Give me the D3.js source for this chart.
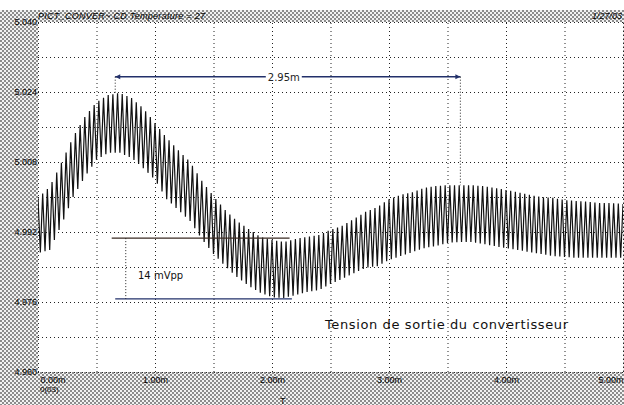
<!DOCTYPE html>
<html>
<head>
<meta charset="utf-8">
<script src="https://cdn.jsdelivr.net/npm/d3@7"></script>
<style>
body { margin: 0; background: #fff; }
svg { display: block; }
.grid line { stroke: #222; stroke-width: 1; stroke-dasharray: 1,3; }
.grid path { display: none; }
.axis path, .axis line { display: none; }
.axis text { font: 9px "Liberation Sans", sans-serif; fill: #000; }
</style>
</head>
<body>
<svg width="624" height="405"></svg>
<script>
// time in ms, read every 0.1 ms
var times = d3.range(0, 51).map(function(i) { return i / 10; });

// ripple tops (V)
var upper = [4.9998, 5.0023, 5.0078, 5.0137, 5.0183, 5.0217, 5.0233, 5.0238, 5.0226, 5.0203,
             5.0169, 5.0135, 5.0107, 5.0080, 5.0037, 5.0002, 4.9970, 4.9945, 4.9927, 4.9909,
             4.9902, 4.9897, 4.9904, 4.9909, 4.9913, 4.9925, 4.9934, 4.9950, 4.9966, 4.9977,
             4.9995, 5.0005, 5.0011, 5.0021, 5.0025, 5.0027, 5.0027, 5.0027, 5.0025, 5.0021,
             5.0016, 5.0011, 5.0005, 5.0000, 4.9998, 4.9993, 4.9991, 4.9989, 4.9986, 4.9986,
             4.9984];

// ripple bottoms (V)
var lower = [4.9872, 4.9879, 4.9936, 5.0000, 5.0046, 5.0085, 5.0101, 5.0101, 5.0089, 5.0066,
             5.0039, 4.9995, 4.9970, 4.9945, 4.9904, 4.9870, 4.9842, 4.9817, 4.9797, 4.9781,
             4.9771, 4.9769, 4.9776, 4.9783, 4.9787, 4.9801, 4.9813, 4.9826, 4.9838, 4.9842,
             4.9856, 4.9865, 4.9874, 4.9883, 4.9888, 4.9895, 4.9897, 4.9897, 4.9893, 4.9888,
             4.9883, 4.9879, 4.9874, 4.9870, 4.9865, 4.9863, 4.9861, 4.9861, 4.9861, 4.9861,
             4.9861];

var rippleCycles = 125;

var xTicks = [0, 1, 2, 3, 4, 5];
var yTicks = [4.960, 4.976, 4.992, 5.008, 5.024, 5.040];
var xGrid = d3.range(0, 5.01, 0.5);
var yGrid = d3.range(4.960, 5.0401, 0.008);

// annotations (ms, V)
var periodMark = {t0: 0.66, t1: 3.61, v: 5.0275, label: "2.95m", peak0: 5.0238, peak1: 5.0027};
var ppMark = {t0: 0.63, t1: 2.15, hi: 4.9906, lo: 4.9767, tv: 0.75, label: "14 mVpp"};

var svg = d3.select("svg");
var W = 624, H = 405;
var margin = {top: 22, right: 1, bottom: 33, left: 38};

var x = d3.scaleLinear().domain([0, 5]).range([margin.left, W - margin.right]);
var y = d3.scaleLinear().domain([4.960, 5.040]).range([H - margin.bottom, margin.top]);

var defs = svg.append("defs");
var pat = defs.append("pattern").attr("id", "dither")
    .attr("width", 4).attr("height", 4).attr("patternUnits", "userSpaceOnUse");
pat.append("rect").attr("width", 4).attr("height", 4).attr("fill", "#f2f2f2");
pat.append("rect").attr("x", 0).attr("y", 0).attr("width", 2).attr("height", 2).attr("fill", "#8c8c8c");
pat.append("rect").attr("x", 2).attr("y", 2).attr("width", 2).attr("height", 2).attr("fill", "#8c8c8c");

defs.append("clipPath").attr("id", "plotclip")
  .append("rect")
    .attr("x", x(0)).attr("y", y(5.040))
    .attr("width", x(5) - x(0)).attr("height", y(4.960) - y(5.040));

// hatched frame
svg.append("rect").attr("x", 0).attr("y", 10).attr("width", W).attr("height", H - 10).attr("fill", "url(#dither)");
svg.append("rect")
    .attr("x", x(0)).attr("y", y(5.040))
    .attr("width", x(5) - x(0)).attr("height", y(4.960) - y(5.040))
    .attr("fill", "#fff");

// grid
svg.append("g").attr("class", "grid")
    .attr("transform", "translate(0," + y(4.960) + ")")
    .call(d3.axisBottom(x).tickValues(xGrid).tickSize(-(y(4.960) - y(5.040))).tickFormat(""));
svg.append("g").attr("class", "grid")
    .attr("transform", "translate(" + x(0) + ",0)")
    .call(d3.axisLeft(y).tickValues(yGrid).tickSize(-(x(5) - x(0))).tickFormat(""));

// signal: triangular ripple between read tops and bottoms
var upAt = d3.scaleLinear().domain(times).range(upper);
var loAt = d3.scaleLinear().domain(times).range(lower);
var half = 5 / rippleCycles / 2;
var pts = d3.range(0, rippleCycles * 2 + 1).map(function(k) {
    var t = k * half;
    return [t, k % 2 == 0 ? upAt(t) : loAt(t)];
});

var line = d3.line()
    .x(function(d) { return x(d[0]); })
    .y(function(d) { return y(d[1]); });

svg.append("path")
    .datum(pts)
    .attr("clip-path", "url(#plotclip)")
    .attr("d", line)
    .attr("fill", "none")
    .attr("stroke", "#111")
    .attr("stroke-width", 1.2);

// axes
var xa = svg.append("g").attr("class", "axis")
    .attr("transform", "translate(0," + y(4.960) + ")")
    .call(d3.axisBottom(x).tickValues(xTicks).tickSize(0).tickPadding(5)
        .tickFormat(function(d) { return d.toFixed(2) + "m"; }));
xa.selectAll("text").filter(function(d) { return d == 0; }).attr("text-anchor", "start").attr("dx", 2);
xa.selectAll("text").filter(function(d) { return d == 5; }).attr("text-anchor", "end");

var ya = svg.append("g").attr("class", "axis")
    .attr("transform", "translate(" + x(0) + ",0)")
    .call(d3.axisLeft(y).tickValues(yTicks).tickSize(0).tickPadding(1)
        .tickFormat(d3.format(".3f")));

svg.append("text").attr("x", 40).attr("y", 392)
    .style("font", "8px 'Liberation Sans', sans-serif").text("0(03)");
svg.append("text").attr("x", 280).attr("y", 404)
    .style("font", "9px 'Liberation Sans', sans-serif").text("T");

// header
svg.append("text").attr("x", 38).attr("y", 19)
    .attr("textLength", 167)
    .style("font", "italic 9px 'Liberation Sans', sans-serif").style("fill", "#000")
    .text("PICT_CONVER~.CD Temperature = 27");
svg.append("text").attr("x", 622).attr("y", 19).attr("text-anchor", "end")
    .style("font", "italic 9px 'Liberation Sans', sans-serif").style("fill", "#000")
    .text("1/27/03");

// period annotation
var navy = "#22306a";
svg.append("line")
    .attr("x1", x(periodMark.t0)).attr("x2", x(periodMark.t1))
    .attr("y1", y(periodMark.v)).attr("y2", y(periodMark.v))
    .attr("stroke", navy).attr("stroke-width", 1.4);
svg.append("path")
    .attr("d", "M" + x(periodMark.t0) + "," + y(periodMark.v) + "l5,-2.5l0,5z")
    .attr("fill", navy);
svg.append("path")
    .attr("d", "M" + x(periodMark.t1) + "," + y(periodMark.v) + "l-5,-2.5l0,5z")
    .attr("fill", navy);
svg.append("line")
    .attr("x1", x(periodMark.t0)).attr("x2", x(periodMark.t0))
    .attr("y1", y(periodMark.v)).attr("y2", y(periodMark.peak0))
    .attr("stroke", "#222").attr("stroke-dasharray", "1,2");
svg.append("line")
    .attr("x1", x(periodMark.t1)).attr("x2", x(periodMark.t1))
    .attr("y1", y(periodMark.v)).attr("y2", y(periodMark.peak1))
    .attr("stroke", "#222").attr("stroke-dasharray", "1,2");
var pmx = (x(periodMark.t0) + x(periodMark.t1)) / 2 - 4;
svg.append("rect").attr("x", pmx - 18).attr("y", y(periodMark.v) - 6).attr("width", 36).attr("height", 12).attr("fill", "#fff");
svg.append("text").attr("x", pmx).attr("y", y(periodMark.v) + 4).attr("text-anchor", "middle")
    .style("font", "10px 'DejaVu Sans', sans-serif").style("fill", "#222")
    .text(periodMark.label);

// peak-to-peak annotation
svg.append("line")
    .attr("x1", x(ppMark.t0)).attr("x2", x(ppMark.t1))
    .attr("y1", y(ppMark.hi)).attr("y2", y(ppMark.hi))
    .attr("stroke", "#3a2a22").attr("stroke-width", 1.3);
svg.append("line")
    .attr("x1", x(ppMark.t0 + 0.03)).attr("x2", x(ppMark.t1 + 0.02))
    .attr("y1", y(ppMark.lo)).attr("y2", y(ppMark.lo))
    .attr("stroke", navy).attr("stroke-width", 1.3);
svg.append("line")
    .attr("x1", x(ppMark.tv)).attr("x2", x(ppMark.tv))
    .attr("y1", y(ppMark.hi)).attr("y2", y(ppMark.lo))
    .attr("stroke", "#222").attr("stroke-dasharray", "1,2");
svg.append("text").attr("x", 138).attr("y", 279)
    .style("font", "10px 'DejaVu Sans', sans-serif").style("fill", "#111")
    .text(ppMark.label);

svg.append("text").attr("x", 325).attr("y", 329)
    .attr("textLength", 243)
    .style("font", "13px 'DejaVu Sans', sans-serif").style("fill", "#111")
    .text("Tension de sortie du convertisseur");
</script>
</body>
</html>
